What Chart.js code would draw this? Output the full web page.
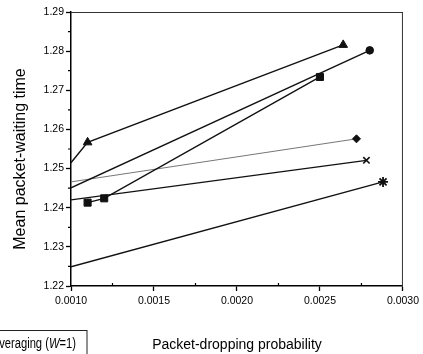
<!DOCTYPE html>
<html lang="en">
<head>
    <meta charset="UTF-8">
    <title>Mean packet-waiting time</title>
    <style>
        html, body { margin: 0; padding: 0; background: #fff; }
        #wrap { width: 423px; height: 354px; }
    </style>
</head>
<body>
    <div id="wrap">
        <canvas id="waitChart" width="423" height="354"></canvas>
    </div>

    <script src="https://cdn.jsdelivr.net/npm/chart.js"></script>
    <script>
        // x = packet-dropping probability, y = mean packet-waiting time
        const triX = [0.0010, 0.0011, 0.00264];
        const triY = [1.2515, 1.2567, 1.2816];
        const circX = [0.0010, 0.0028];
        const circY = [1.2451, 1.2802];
        const sqX = [0.0011, 0.0012, 0.0025];
        const sqY = [1.2413, 1.2424, 1.2734];
        const diaX = [0.0010, 0.00272];
        const diaY = [1.2466, 1.2576];
        const crossX = [0.0010, 0.00278];
        const crossY = [1.2420, 1.2521];
        const starX = [0.0010, 0.00288];
        const starY = [1.2249, 1.2466];

        const xMinor = [0.00125, 0.00175, 0.00225, 0.00275];
        const yMinor = [1.225, 1.235, 1.245, 1.255, 1.265, 1.275, 1.285];

        const toPoints = (xs, ys) => xs.map((x, i) => ({ x: x, y: ys[i] }));

        // no marker where a curve starts on the left axis
        const markerSize = r => ctx => (ctx.raw && ctx.raw.x <= 0.00100001) ? 0 : r;

        function series(xs, ys, style, r, extra) {
            return Object.assign({
                data: toPoints(xs, ys),
                showLine: true,
                borderColor: '#111',
                backgroundColor: '#111',
                borderWidth: 1.4,
                pointStyle: style,
                pointRadius: markerSize(r),
                pointBorderColor: '#111',
                pointBackgroundColor: '#111',
                pointBorderWidth: 1,
                tension: 0
            }, extra || {});
        }

        // box edges, minor ticks, rotated y title and the clipped legend box
        const extras = {
            id: 'extras',
            afterDraw(chart) {
                const c = chart.ctx;
                const a = chart.chartArea;
                const xs = chart.scales.x, ys = chart.scales.y;
                c.save();
                c.strokeStyle = '#333';
                c.lineWidth = 1;
                c.beginPath();
                c.moveTo(a.left, a.top + 0.5);
                c.lineTo(a.right, a.top + 0.5);
                c.moveTo(a.right - 0.5, a.top);
                c.lineTo(a.right - 0.5, a.bottom);
                c.stroke();

                c.strokeStyle = '#000';
                c.lineWidth = 1.2;
                c.beginPath();
                yMinor.forEach(v => {
                    const py = ys.getPixelForValue(v);
                    c.moveTo(a.left - 3, py);
                    c.lineTo(a.left, py);
                });
                xMinor.forEach(v => {
                    const px = xs.getPixelForValue(v);
                    c.moveTo(px, a.bottom);
                    c.lineTo(px, a.bottom - 3);
                });
                c.stroke();

                // y axis title
                c.fillStyle = '#000';
                c.font = '16px "Liberation Sans", Arial, sans-serif';
                c.textAlign = 'center';
                c.textBaseline = 'middle';
                c.translate(21, 159);
                c.rotate(-Math.PI / 2);
                c.fillText('Mean packet-waiting time', 0, 0);
                c.setTransform(1, 0, 0, 1, 0, 0);

                // legend box, cut by the lower-left corner
                c.strokeStyle = '#222';
                c.lineWidth = 1;
                c.strokeRect(-2, 330.5, 89, 40);
                const f = '14px "Liberation Sans", sans-serif';
                const fi = 'italic ' + f;
                const parts = [['veraging (', f], ['W', fi], ['=1)', f]];
                const squeeze = 0.8;
                let w = 0;
                parts.forEach(p => { c.font = p[1]; w += c.measureText(p[0]).width; });
                c.translate(76 - w * squeeze, 344);
                c.scale(squeeze, 1);
                let x = 0;
                c.textAlign = 'left';
                parts.forEach(p => {
                    c.font = p[1];
                    c.fillText(p[0], x, 0);
                    x += c.measureText(p[0]).width;
                });
                c.restore();
            }
        };

        const tickFont = { family: '"Liberation Sans", Arial, sans-serif', size: 10.5 };

        new Chart(document.getElementById('waitChart').getContext('2d'), {
            type: 'scatter',
            data: {
                datasets: [
                    series(triX, triY, 'triangle', 5),
                    series(circX, circY, 'circle', 3.8),
                    series(sqX, sqY, 'rect', 5),
                    series(diaX, diaY, 'rectRot', 4, { borderColor: '#666', borderWidth: 0.9 }),
                    series(crossX, crossY, 'crossRot', 4.5, { pointBorderWidth: 1.6 }),
                    series(starX, starY, 'star', 5, { pointBorderWidth: 1.8 })
                ]
            },
            options: {
                responsive: false,
                animation: false,
                layout: { padding: { top: 12, right: 16, left: 0, bottom: 0 } },
                plugins: {
                    legend: { display: false },
                    tooltip: { enabled: false }
                },
                scales: {
                    x: {
                        type: 'linear',
                        min: 0.0010,
                        max: 0.0030,
                        afterFit: s => { s.height = 68; },
                        border: { display: true, color: '#000', width: 1.5 },
                        grid: { drawOnChartArea: false, tickLength: 5, tickColor: '#000', tickWidth: 1.3 },
                        ticks: {
                            stepSize: 0.0005,
                            padding: 4,
                            color: '#000',
                            font: tickFont,
                            maxRotation: 0,
                            callback: v => Number(v).toFixed(4)
                        },
                        title: {
                            display: true,
                            text: 'Packet-dropping probability',
                            color: '#000',
                            font: { family: '"Liberation Sans", Arial, sans-serif', size: 14 },
                            padding: 0
                        }
                    },
                    y: {
                        type: 'linear',
                        min: 1.22,
                        max: 1.29,
                        afterFit: s => { s.width = 71; },
                        border: { display: true, color: '#000', width: 1.5 },
                        grid: { drawOnChartArea: false, tickLength: 5, tickColor: '#000', tickWidth: 1.3 },
                        ticks: {
                            stepSize: 0.01,
                            padding: 2,
                            color: '#000',
                            font: tickFont,
                            callback: v => Number(v).toFixed(2)
                        }
                    }
                }
            },
            plugins: [extras]
        });
    </script>
</body>
</html>
